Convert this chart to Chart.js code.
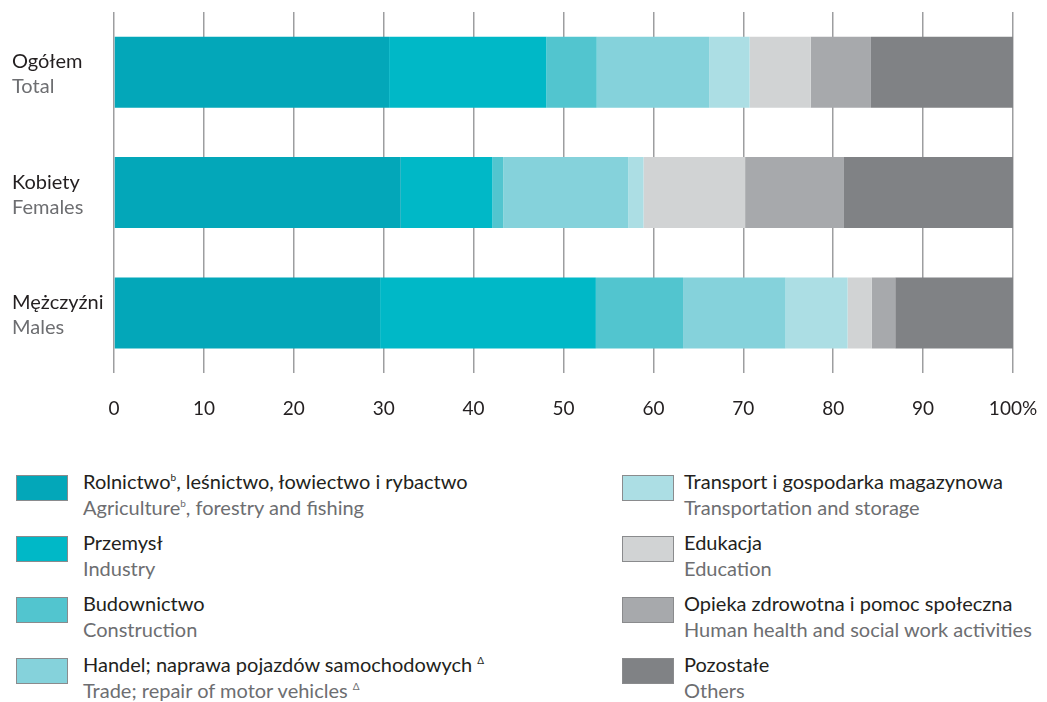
<!DOCTYPE html>
<html>
<head>
<meta charset="utf-8">
<script src="https://cdn.jsdelivr.net/npm/chart.js@4.4.1/dist/chart.umd.min.js"></script>
<style>
  body { margin: 0; background: #fff; font-family: Lato, sans-serif; overflow: hidden; }
  #chart { position: absolute; left: 0; top: 0; }
  .item { position: absolute; height: 52px; }
  .sw { position: absolute; left: 0; top: 0; width: 50px; height: 24px; border: 1px solid #8a8b8d; }
  .pl { position: absolute; top: -6px; white-space: nowrap; font-size: 20px; color: #231f20; }
  .en { position: absolute; top: 20px; white-space: nowrap; font-size: 20px; color: #6d6e71; }
  sup { font-size: 10px; vertical-align: 8px; line-height: 0; }
</style>
</head>
<body>
<canvas id="chart" width="1047" height="444"></canvas>
<div id="legend"></div>
<script>
// groups (rows)
const groupsPl = ["Ogółem", "Kobiety", "Mężczyźni"];
const groupsEn = ["Total", "Females", "Males"];

// sectors
const sectorsPl = [
  "Rolnictwo<sup>b</sup>, leśnictwo, łowiectwo i rybactwo",
  "Przemysł",
  "Budownictwo",
  "Handel; naprawa pojazdów samochodowych <sup>Δ</sup>",
  "Transport i gospodarka magazynowa",
  "Edukacja",
  "Opieka zdrowotna i pomoc społeczna",
  "Pozostałe"
];
const sectorsEn = [
  "Agriculture<sup>b</sup>, forestry and fishing",
  "Industry",
  "Construction",
  "Trade; repair of motor vehicles <sup>Δ</sup>",
  "Transportation and storage",
  "Education",
  "Human health and social work activities",
  "Others"
];
const sectorColors = ["#03a7b9", "#00b8c7", "#52c5cf", "#85d2db", "#acdee4", "#d1d3d4", "#a7a9ac", "#808285"];

// shares in % per group: [Ogółem, Kobiety, Mężczyźni]
const agriculture = [30.6, 31.9, 29.6];
const industry    = [17.5, 10.2, 24.0];
const construction= [5.6, 1.2, 9.7];
const trade       = [12.5, 13.9, 11.4];
const transport   = [4.5, 1.7, 6.9];
const education   = [6.8, 11.3, 2.7];
const health      = [6.7, 11.0, 2.6];
const others      = [15.8, 18.8, 13.1];

const seriesValues = [agriculture, industry, construction, trade, transport, education, health, others];
const xTicks = [0, 10, 20, 30, 40, 50, 60, 70, 80, 90, 100];

const rowLabels = {
  id: "rowLabels",
  afterDraw(chart) {
    const ctx = chart.ctx;
    const y = chart.scales.y;
    ctx.save();
    ctx.font = '20px Lato';
    ctx.textAlign = "left";
    ctx.textBaseline = "alphabetic";
    groupsPl.forEach((g, i) => {
      const cy = y.getPixelForValue(i);
      ctx.fillStyle = "#231f20";
      ctx.fillText(g, 12, cy - 4);
      ctx.fillStyle = "#6d6e71";
      ctx.fillText(groupsEn[i], 12, cy + 21);
    });
    ctx.restore();
  }
};

const chart = new Chart(document.getElementById("chart"), {
  type: "bar",
  data: {
    labels: groupsPl,
    datasets: seriesValues.map((vals, i) => ({
      label: sectorsEn[i],
      data: vals,
      backgroundColor: sectorColors[i],
      borderWidth: 0,
      barPercentage: 0.59,
      categoryPercentage: 1
    }))
  },
  options: {
    indexAxis: "y",
    responsive: false,
    animation: false,
    layout: { padding: { left: 114, right: 34, top: 12, bottom: 0 } },
    plugins: { legend: { display: false }, tooltip: { enabled: false } },
    scales: {
      x: {
        stacked: true,
        min: 0,
        max: 100,
        afterBuildTicks: (axis) => { axis.ticks = xTicks.map(v => ({ value: v })); },
        afterFit: (axis) => { axis.paddingLeft = 0; axis.paddingRight = 0; },
        border: { display: false },
        grid: { color: "#9d9ea0", lineWidth: 1.5, drawTicks: false },
        ticks: {
          padding: 24,
          color: "#231f20",
          font: { family: "Lato", size: 19 },
          callback: (v) => v === 100 ? "100%" : v
        }
      },
      y: {
        stacked: true,
        display: false
      }
    }
  },
  plugins: [rowLabels]
});

// HTML legend
const legend = document.getElementById("legend");
sectorsPl.forEach((name, i) => {
  const col = i < 4 ? 0 : 1;
  const row = i % 4;
  const textLeft = col === 0 ? 67 : 62;
  const d = document.createElement("div");
  d.className = "item";
  d.style.left = (col === 0 ? 16 : 622) + "px";
  d.style.top = (475 + row * 61) + "px";
  d.innerHTML = '<div class="sw" style="background:' + sectorColors[i] + '"></div>' +
    '<div class="pl" style="left:' + textLeft + 'px">' + name + '</div>' +
    '<div class="en" style="left:' + textLeft + 'px">' + sectorsEn[i] + '</div>';
  legend.appendChild(d);
});
</script>
</body>
</html>
